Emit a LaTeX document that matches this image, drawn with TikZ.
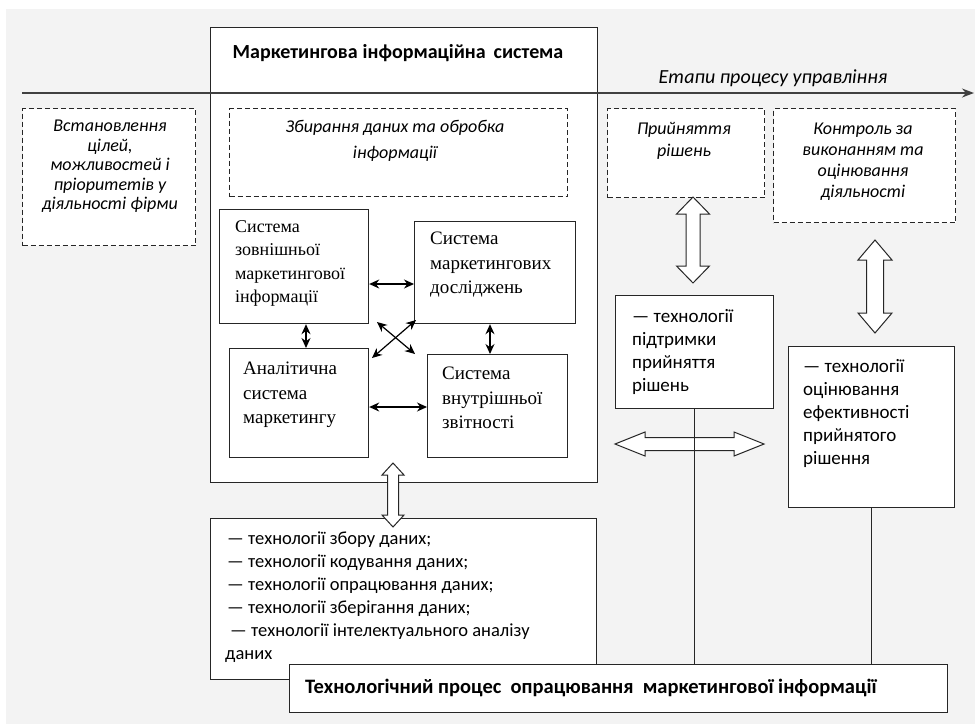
\documentclass[tikz,border=0pt]{standalone}
\usepackage{fontspec}
\setmainfont{Carlito}
\newfontfamily\tnr{Liberation Serif}
\usetikzlibrary{arrows.meta}
\definecolor{bggray}{RGB}{243,243,243}
% hollow double arrow: centre, angle, half length, half shaft, half head, head length
\newcommand{\hollowarr}[6]{%
\draw[hollow,shift={(#1)},rotate=#2](-#3,0)--(-#3+#6,#5)--(-#3+#6,#4)--(#3-#6,#4)--(#3-#6,#5)--(#3,0)
--(#3-#6,-#5)--(#3-#6,-#4)--(-#3+#6,-#4)--(-#3+#6,-#5)--cycle;}
\begin{document}
\begin{tikzpicture}[x=1pt,y=-1pt,
box/.style={draw=black!85,line width=1.2pt,fill=white,anchor=north west,inner sep=0pt},
dbox/.style={box,dash pattern=on 5pt off 3pt},
hollow/.style={draw=black!85,line width=1pt,fill=white,line join=miter},
biarr/.style={{Stealth[length=10pt,width=9pt]}-{Stealth[length=10pt,width=9pt]},line width=1.2pt},
ital/.style={font=\itshape\fontsize{18}{19.5}\selectfont,align=center,inner sep=0pt,anchor=north},
serif/.style={font=\tnr\fontsize{19}{24.5}\selectfont,align=left,inner sep=0pt,anchor=north west},
sans/.style={font=\fontsize{19}{23}\selectfont,align=left,inner sep=0pt,anchor=north west}]
%background
\fill[white](0,0)rectangle(975,724);
\fill[bggray](6,9)rectangle(975,724);
%information system
\node[box,minimum width=387pt,minimum height=455pt](mis)at(210,27){};
\node[font=\bfseries\fontsize{20}{24}\selectfont](mist)at(398,53){Маркетингова\hspace{5pt}інформаційна\hspace{8pt}система};
%stages
\coordinate(tl0)at(22,93);
\coordinate(tl1)at(974,93);
\draw[black!75,line width=1.5pt,-{Stealth[length=12pt,width=9pt]}](tl0)--(tl1);
\node[font=\itshape\fontsize{20}{24}\selectfont](tll)at(773,78){Етапи процесу управління};
\node[dbox,minimum width=173pt,minimum height=137pt](goal)at(22,108){};
\node[ital](goalt)at(110,120){Встановлення\\цілей,\\можливостей і\\пріоритетів у\\діяльності фірми};
\node[dbox,minimum width=338pt,minimum height=88pt](coll)at(229,108){};
\node[ital,font=\itshape\fontsize{18}{26}\selectfont](collt)at(395,120){Збирання даних та обробка\\інформації};
\node[dbox,minimum width=157pt,minimum height=89pt](dec)at(607,108){};
\node[ital,font=\itshape\fontsize{18}{22}\selectfont](dect)at(684,122){Прийняття\\рішень};
\node[dbox,minimum width=182pt,minimum height=114pt](ctrl)at(773,108){};
\node[ital,font=\itshape\fontsize{18}{21}\selectfont](ctrlt)at(863,123){Контроль за\\виконанням та\\оцінювання\\діяльності};
%subsystems
\node[box,minimum width=149pt,minimum height=114pt](ext)at(219,209){};
\node[serif,font=\tnr\fontsize{18}{23.5}\selectfont](extt)at(235,220){Система\\зовнішньої\\маркетингової\\інформації};
\node[box,minimum width=161pt,minimum height=102pt](res)at(414,221){};
\node[serif](rest)at(430,232){Система\\маркетингових\\досліджень};
\node[box,minimum width=139pt,minimum height=109pt](ana)at(229,348){};
\node[serif](anat)at(243,362){Аналітична\\система\\маркетингу};
\node[box,minimum width=140pt,minimum height=103pt](intr)at(427,354){};
\node[serif](intrt)at(442,367){Система\\внутрішньої\\звітності};
\draw[biarr](ext.east|-0,284)--(res.west|-0,284);
\draw[biarr](ext.south-|306,0)--(ana.north-|306,0);
\draw[biarr](res.south-|490,0)--(intr.north-|490,0);
\draw[biarr](ana.east|-0,407)--(intr.west|-0,407);
\coordinate(c1)at(377,322);
\coordinate(c2)at(415,354);
\coordinate(c3)at(416,320);
\coordinate(c4)at(372,358);
\draw[biarr](c1)--(c2);
\draw[biarr](c3)--(c4);
%technologies
\hollowarr{693,240}{90}{43}{7}{16.5}{17}
\hollowarr{875,286.5}{90}{46.5}{8.5}{17}{20}
\node[box,minimum width=158pt,minimum height=113pt](dtech)at(615,295){};
\node[sans](dtecht)at(632,309){— технології\\підтримки\\прийняття\\рішень};
\node[box,minimum width=166pt,minimum height=161pt](etech)at(788,346){};
\node[sans](etecht)at(803,359){— технології\\оцінювання\\ефективності\\прийнятого\\рішення};
\hollowarr{689.5,444}{0}{74.5}{6.5}{12}{30}
\draw[black!85,line width=1.2pt](dtech.south)--(dtech.south|-0,664);
\draw[black!85,line width=1.2pt](etech.south)--(etech.south|-0,664);
\node[box,minimum width=386pt,minimum height=161pt](ltech)at(210,518){};
\node[sans,font=\fontsize{18.5}{23}\selectfont](ltecht)at(227,532){— технології збору даних;\\— технології кодування даних;\\— технології опрацювання даних;\\— технології зберігання даних;\\\hspace*{3pt}— технології інтелектуального аналізу\\\hspace*{-2pt}даних};
\hollowarr{393,495}{90}{32}{5.5}{11}{12}
\node[box,minimum width=658pt,minimum height=48pt](proc)at(289,664){};
\node[font=\bfseries\fontsize{20.5}{24}\selectfont,anchor=west,inner sep=0pt](proct)at(305,688){Технологічний процес\ \ опрацювання\ \ маркетингової\ інформації};
\end{tikzpicture}
\end{document}
